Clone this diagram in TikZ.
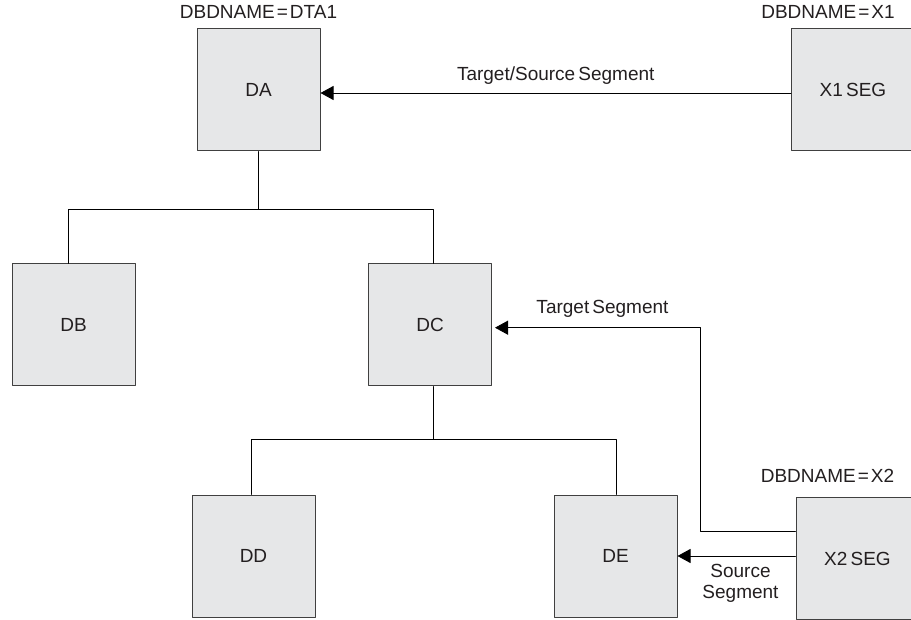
\documentclass[tikz,border=0pt]{standalone}
\usepackage{fontspec}
\setmainfont{Liberation Sans}[WordSpace=0.6]
\usepackage{xcolor}
\usetikzlibrary{arrows.meta,positioning}
\definecolor{segfill}{HTML}{E6E7E8}
\definecolor{segline}{HTML}{404040}
\definecolor{segtext}{HTML}{231F20}
\tikzset{
  seg/.style={draw=segline, fill=segfill, line width=1pt, minimum width=123pt, minimum height=122pt, inner sep=0pt, text=segtext, font=\fontsize{19}{22}\selectfont},
  dbd/.style={inner sep=0pt, text=segtext, font=\fontsize{19}{22}\selectfont},
  lbl/.style={inner sep=0pt, align=center, text=segtext, font=\fontsize{19}{21}\selectfont},
  link/.style={line width=0.9pt},
  ptr/.style={link, -{Triangle[length=13pt,width=14pt]}},
  every picture/.style={line cap=round, line join=round}
}
\newcommand{\dbdname}[1]{DBDNAME\kern2pt=\kern2pt#1}

\begin{document}
\begin{tikzpicture}[x=1pt,y=-1pt]
  \clip (0,0) rectangle (911,620);
  \node[seg] (da) at (258.5,90) {DA};
  \node[seg] (x1) at (853,90) {X1 SEG};
  \node[seg] (db) at (73.5,325) {DB};
  \node[seg] (dc) at (430,325) {DC};
  \node[seg] (dd) at (253.5,556) {DD};
  \node[seg] (de) at (615.5,556) {DE};
  \node[seg] (x2) at (857.5,558.5) {X2 SEG};
  \node[dbd, above=10pt of da] (daname) {\dbdname{DTA1}};
  \node[dbd, above=10pt of x1, xshift=-25pt] (x1name) {\dbdname{X1}};
  \node[dbd, above=14pt of x2, xshift=-30pt] (x2name) {\dbdname{X2}};
  % hierarchy
  \coordinate (busa) at (258.5,209);
  \coordinate (busc) at (433,439);
  \draw[link] (da.south) -- (busa) -| ([xshift=-5.5pt]db.north);
  \draw[link] (busa) -| ([xshift=3pt]dc.north);
  \draw[link] ([xshift=3pt]dc.south) -- (busc) -| ([xshift=-2pt]dd.north);
  \draw[link] (busc) -| ([xshift=1pt]de.north);
  % logical relationships
  \draw[ptr] ([yshift=-3pt]x1.west) -- node[lbl, above=8pt] {Target/Source Segment} ([yshift=-3pt]da.east);
  \coordinate (bend) at (700,327.7);
  \draw[ptr] ([yshift=27pt]x2.west) -| (bend) -- node[lbl, above=10pt, xshift=5pt] {Target Segment} ([yshift=-2.7pt,xshift=3pt]dc.east);
  \draw[ptr] (x2.west |- de.east) -- node[lbl, below=8pt, xshift=4pt] {Source\\Segment} (de.east);
\end{tikzpicture}
\end{document}
